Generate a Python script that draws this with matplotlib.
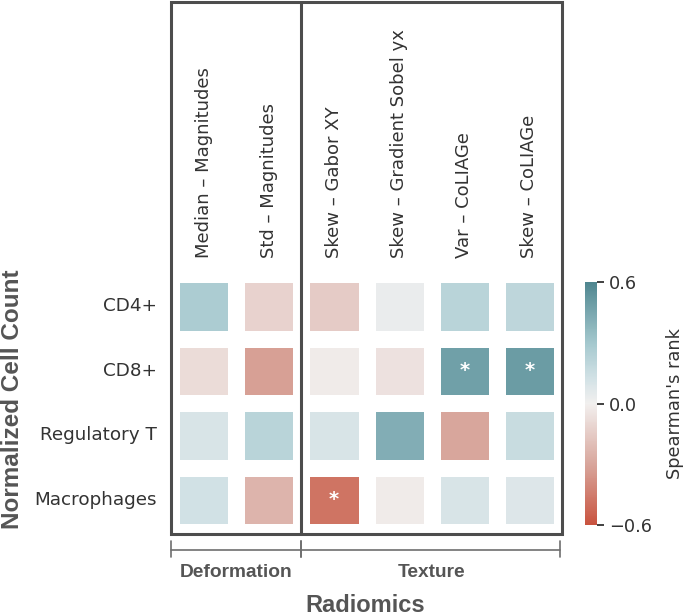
import numpy as np
import pandas as pd
import matplotlib
matplotlib.use("Agg")
import matplotlib.pyplot as plt
import matplotlib.transforms as mtransforms
from matplotlib.patches import Rectangle
from matplotlib.lines import Line2D
from matplotlib.colors import LinearSegmentedColormap
import seaborn as sns

sns.set_style("white")
plt.rcParams['font.family'] = ['DejaVu Sans']

# ---------------- data ----------------
cell_types = ["CD4+", "CD8+", "Regulatory T", "Macrophages"]
features = ["Median – Magnitudes", "Std – Magnitudes",
            "Skew – Gabor XY", "Skew – Gradient Sobel yx",
            "Var – CoLIAGe", "Skew – CoLIAGe"]
groups = ["Deformation", "Texture"]
group_sizes = [2, 4]

rho_cd4 = [0.27, -0.12, -0.15, 0.03, 0.22, 0.20]
rho_cd8 = [-0.08, -0.32, -0.02, -0.06, 0.48, 0.50]
rho_treg = [0.10, 0.22, 0.10, 0.42, -0.30, 0.16]
rho_macro = [0.13, -0.24, -0.48, -0.02, 0.10, 0.08]

sig_cd4 = [False] * 6
sig_cd8 = [False, False, False, False, True, True]
sig_treg = [False] * 6
sig_macro = [False, False, True, False, False, False]

df = pd.DataFrame([rho_cd4, rho_cd8, rho_treg, rho_macro],
                  index=cell_types, columns=features)
annot = np.where(np.array([sig_cd4, sig_cd8, sig_treg, sig_macro]), "*", "")

# ---------------- figure ----------------
W, H = 685, 616
fig = plt.figure(figsize=(W / 100, H / 100), dpi=100)

def fx(px):
    return px / W

def fy(py):
    return 1 - py / H

ax = fig.add_axes([fx(171), fy(532), fx(562) - fx(171), fy(274) - fy(532)])
cax = fig.add_axes([fx(585), fy(525), fx(597) - fx(585), fy(282) - fy(525)])

cmap = LinearSegmentedColormap.from_list(
    "rb", [(0.0, "#c9533f"), (0.25, "#d8a69c"), (0.5, "#f2f0ef"),
           (0.6, "#d3e2e6"), (0.75, "#a4c8ce"), (1.0, "#4f868f")])
sns.heatmap(df, ax=ax, cmap=cmap, vmin=-0.6, vmax=0.6, center=0,
            linewidths=11, linecolor="white", annot=annot, fmt="",
            annot_kws={"color": "white", "fontsize": 14, "fontweight": "bold",
                       "va": "center"},
            cbar_ax=cax, cbar_kws={"ticks": [-0.6, 0.0, 0.6]})

ax.xaxis.tick_top()
ax.set_xticklabels(features, rotation=90, fontsize=13, color="#333333")
ax.set_yticklabels(cell_types, rotation=0, fontsize=13.2, color="#333333")
ax.tick_params(axis="y", length=0, pad=10)
ax.tick_params(axis="x", length=0, pad=11.5)
ax.set_xlabel("")
ax.set_ylabel("")

cax.tick_params(labelsize=12.8, colors="#333333", length=5, width=1.3)
cax.set_yticklabels(["\u22120.6", "0.0", "0.6"])
cax.set_ylabel("Spearman's rank", fontsize=12.8, color="#333333", labelpad=10)
for s in cax.spines.values():
    s.set_visible(False)

# ---------------- frame and group separators ----------------
frame_col = "#4d4d4d"
bt = mtransforms.blended_transform_factory(ax.transData, fig.transFigure)
ncol = len(features)
fig.add_artist(Rectangle((0, fy(534)), ncol, fy(2) - fy(534), transform=bt,
                         fill=False, edgecolor=frame_col, lw=2.2, clip_on=False))
edges = np.cumsum([0] + group_sizes)
for e in edges[1:-1]:
    fig.add_artist(Line2D([e, e], [fy(534), fy(2)], transform=bt,
                          color=frame_col, lw=2.2))

# brackets below
br_col = "#6e6e6e"
for i, g in enumerate(groups):
    x0, x1 = edges[i], edges[i + 1]
    pad = 0.03 if i == len(groups) - 1 else 0
    fig.add_artist(Line2D([x0, x1 - pad], [fy(550), fy(550)], transform=bt,
                          color=br_col, lw=1.2))
    for xe in (x0, x1 - pad):
        fig.add_artist(Line2D([xe, xe], [fy(541), fy(557)], transform=bt,
                              color=br_col, lw=1.2))
    fig.text((x0 + x1) / 2, fy(572.5), g, transform=bt, ha="center", va="center",
             fontsize=13.8, fontweight="bold", color="#555555",
             family=["Liberation Sans", "DejaVu Sans"])

fig.text(fx(365), fy(605), "Radiomics", ha="center", va="center",
         fontsize=17, fontweight="bold", color="#555555",
         family=["Liberation Sans", "DejaVu Sans"])
fig.text(fx(13), fy(399), "Normalized Cell Count", ha="center", va="center",
         rotation=90, fontsize=17.5, fontweight="bold", color="#555555",
         family=["Liberation Sans", "DejaVu Sans"])

fig.savefig("out.png", dpi=100)
